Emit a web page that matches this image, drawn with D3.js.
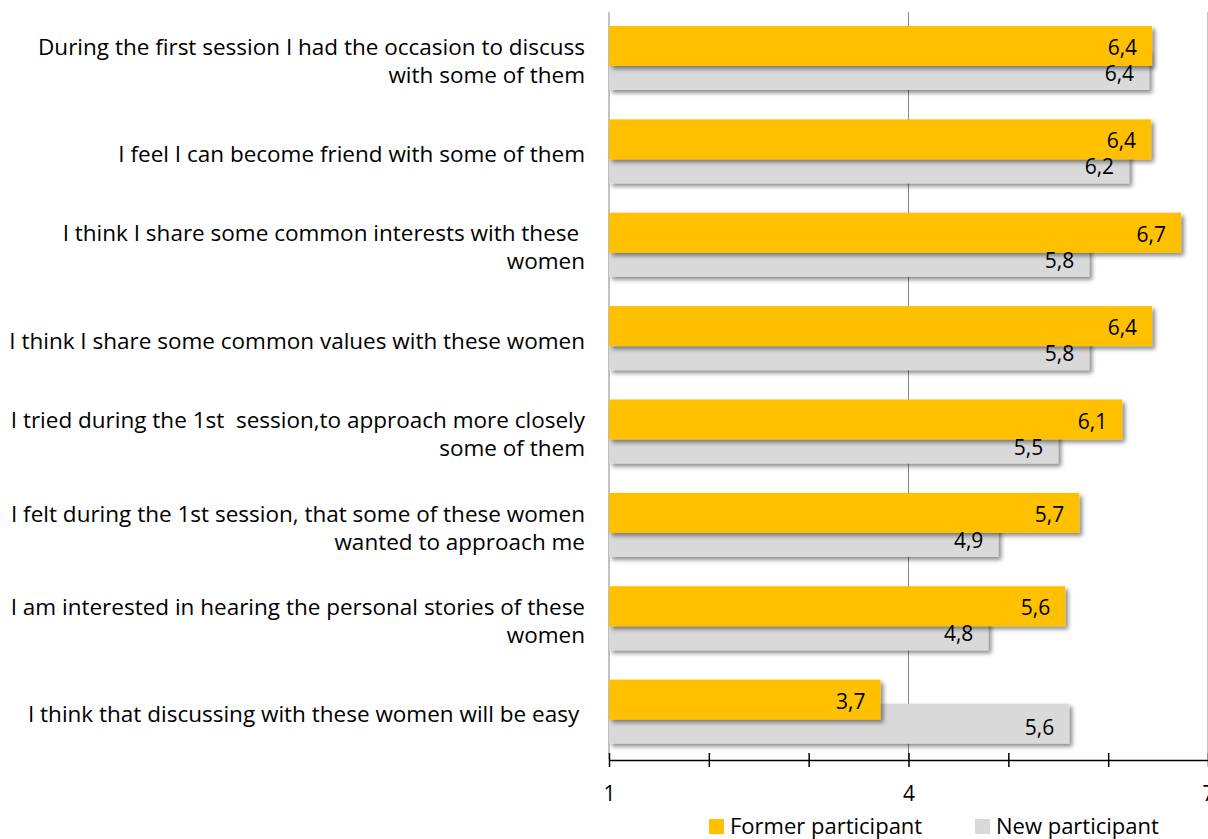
<!DOCTYPE html>
<html><head><meta charset="utf-8">
<script src="https://cdn.jsdelivr.net/npm/d3@7"></script>
<style>
body{margin:0;background:#fff;}
svg text{font-family:"Open Sans",sans-serif;fill:#000;white-space:pre;}
</style></head>
<body>
<svg id="chart" width="1208" height="839"></svg>
<script>
const categories = [
  ["During the first session I had the occasion to discuss","with some of them"],
  ["I feel I can become friend with some of them"],
  ["I think I share some common interests with these ","women"],
  ["I think I share some common values with these women"],
  ["I tried during the 1st  session,to approach more closely","some of them"],
  ["I felt during the 1st session, that some of these women","wanted to approach me"],
  ["I am interested in hearing the personal stories of these","women"],
  ["I think that discussing with these women will be easy "]
];
const formerValues = [6.44, 6.43, 6.73, 6.44, 6.14, 5.71, 5.57, 3.72];
const newValues    = [6.41, 6.21, 5.81, 5.81, 5.50, 4.90, 4.80, 5.61];
const seriesNames  = ["Former participant", "New participant"];
const seriesColors = ["#FFC000", "#D9D9D9"];
const axisTicks    = [1, 2, 3, 4, 5, 6, 7];
const labelTicks   = [1, 4, 7];
const gridTicks    = [4, 7];

const svg = d3.select("#chart");
const x = d3.scaleLinear().domain([1, 7]).range([609, 1208]);
const y = d3.scaleBand().domain(d3.range(categories.length)).range([12, 759]).paddingInner(0);
const fmt = v => d3.format(".1f")(v).replace(".", ",");

const defs = svg.append("defs");
const f = defs.append("filter").attr("id","shadow").attr("x","-5%").attr("y","-20%").attr("width","115%").attr("height","160%");
f.append("feDropShadow").attr("dx",3).attr("dy",3).attr("stdDeviation",2).attr("flood-color","#000").attr("flood-opacity",0.45);

// gridlines
svg.append("g").selectAll("line").data(gridTicks).join("line")
  .attr("x1", d => x(d)).attr("x2", d => x(d))
  .attr("y1", 12).attr("y2", 759)
  .attr("stroke", "#868686").attr("stroke-width", 1);

// left axis line
svg.append("line").attr("x1", x(1)).attr("x2", x(1)).attr("y1", 12).attr("y2", 759)
  .attr("stroke", "#868686").attr("stroke-width", 1);

const barH = 40;
// grey bars (behind)
svg.append("g").selectAll("rect").data(newValues).join("rect")
  .attr("x", x(1)).attr("y", (d,i) => y(i) + 38)
  .attr("width", d => x(d) - x(1)).attr("height", barH)
  .attr("fill", seriesColors[1]).attr("filter","url(#shadow)");
// orange bars
svg.append("g").selectAll("rect").data(formerValues).join("rect")
  .attr("x", x(1)).attr("y", (d,i) => y(i) + 14)
  .attr("width", d => x(d) - x(1)).attr("height", barH)
  .attr("fill", seriesColors[0]).attr("filter","url(#shadow)");

// value labels
svg.append("g").selectAll("text").data(newValues).join("text")
  .attr("x", d => x(d) - 15).attr("y", (d,i) => y(i) + 61)
  .attr("text-anchor","end").attr("dominant-baseline","central")
  .attr("font-size", 21).text(d => fmt(d));
svg.append("g").selectAll("text").data(formerValues).join("text")
  .attr("x", d => x(d) - 15).attr("y", (d,i) => y(i) + 35)
  .attr("text-anchor","end").attr("dominant-baseline","central")
  .attr("font-size", 21).text(d => fmt(d));

// category labels
const cat = svg.append("g").selectAll("text").data(categories).join("text")
  .attr("text-anchor","end").attr("font-size", 22.5);
cat.each(function(lines, i){
  const lh = 28;
  const cy = y(i) + y.bandwidth()/2 + 1.5;
  const t = d3.select(this);
  lines.forEach((ln, j) => {
    t.append("tspan").attr("x", 585)
      .attr("y", cy + (j - (lines.length-1)/2) * lh)
      .attr("dominant-baseline","central").text(ln);
  });
});

// x axis
const axis = d3.axisBottom(x).tickValues(axisTicks)
  .tickFormat(d => labelTicks.includes(d) ? d : "")
  .tickSizeInner(7).tickSizeOuter(0).tickPadding(19);
const ax = svg.append("g").attr("transform","translate(0,760)").call(axis);
ax.select(".domain").attr("stroke","#000").attr("stroke-width",1.5);
ax.selectAll(".tick line").attr("y1",-7).attr("y2",7).attr("stroke","#000").attr("stroke-width",1.5);
ax.selectAll(".tick text").attr("font-size",21).attr("font-family","Open Sans").attr("fill","#000");

// legend
const legend = svg.append("g");
const legX = [709, 975];
seriesNames.forEach((n, i) => {
  legend.append("rect").attr("x", legX[i]).attr("y", 819).attr("width", 15).attr("height", 15).attr("fill", seriesColors[i]);
  legend.append("text").attr("x", legX[i] + 21).attr("y", 834)
    .attr("font-size", 22).text(n);
});
</script>
</body></html>
